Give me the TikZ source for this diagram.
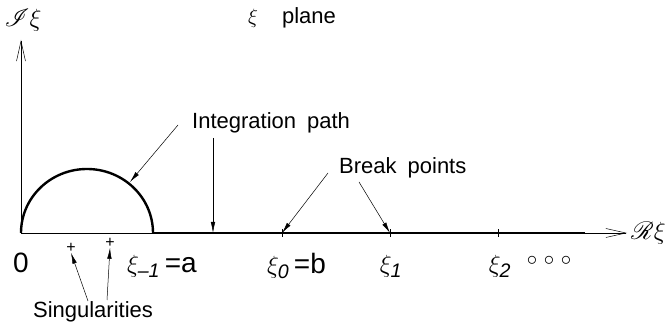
\documentclass[tikz,border=0pt]{standalone}
\usepackage{amsmath,amssymb,mathrsfs}
\usepackage{fontspec}
\setmainfont{Liberation Sans}
\usepackage{tikz}
\usetikzlibrary{arrows.meta,positioning}

\tikzset{
  axis/.style={line width=0.5pt,-{Straight Barb[length=20pt,width=9pt,line width=0.5pt]}},
  pathline/.style={line width=2.4pt},
  pointer/.style={line width=0.5pt,-{Latex[length=11pt,width=4.5pt]}},
  txt/.style={font=\fontsize{22}{24}\selectfont,inner sep=0pt},
  pt/.style={font=\fontsize{28}{30}\selectfont,inner sep=0pt},
  axlab/.style={font=\fontsize{25}{27}\selectfont,inner sep=0pt}
}

\begin{document}
\begin{tikzpicture}[x=1pt,y=1pt]
\useasboundingbox (0,0) rectangle (667,328);
% axes
\coordinate (O) at (21,95);
\coordinate (Itip) at (21,288);
\coordinate (Rtip) at (627,95);
\draw[axis] (O) -- (Itip);
\draw[axis] (O) -- (Rtip);
\node[axlab] (Ilab) at (23,308) {$\mathscr{I}\xi$};
\node[axlab,anchor=west] (Rlab) at (631,95) {$\mathscr{R}\xi$};
\node[txt] (plane) at (292,310) {$\xi$\hspace{1.1em}plane};
% integration path
\draw[line width=0.5pt,dash pattern=on 2pt off 7pt] (O) -- (153,95);
\draw[pathline] (O) arc[start angle=180,end angle=0,x radius=66,y radius=64]
  coordinate (a);
\draw[pathline] (a) -- (585,95) coordinate (pend);
% break points
\foreach \x/\n in {282/b0,390/b1,498/b2} {
  \draw[line width=0.6pt] (\x,91) -- (\x,99);
  \coordinate (\n) at (\x,95);
}
% labels on the real axis
\node[pt] (zero) at (21,65) {0};
\node[pt,anchor=west] (am) at (127,62) {$\xi_{\textit{--1}}$\,=a};
\node[pt,anchor=west] (bm) at (267,62) {$\xi_{\textit{0}}$\,=b};
\node[pt] (x1) at (391,62) {$\xi_{\textit{1}}$};
\node[pt] (x2) at (500,62) {$\xi_{\textit{2}}$};
\node[txt] (dots) at (549,67) {$\circ$\hspace{0.3em}$\circ$\hspace{0.3em}$\circ$};
% singularities
\node[font=\fontsize{16}{16}\selectfont,inner sep=0pt] (s1) at (71,80) {+};
\node[font=\fontsize{16}{16}\selectfont,inner sep=0pt] (s2) at (110,85) {+};
\node[txt] (sing) at (93,16) {Singularities};
\draw[pointer] (88,27) -- (s1.south);
\draw[pointer] (107,28) -- (s2.south);
% pointers
\node[txt,anchor=west] (ilab) at (192,205) {Integration\hspace{0.5em}path};
\coordinate (onarc) at (130,146);
\draw[pointer] (178,203) -- (onarc);
\draw[pointer] (213,190) -- (213,95);
\node[txt,anchor=west] (blab) at (339,160) {Break\hspace{0.5em}points};
\draw[pointer] (328,155) -- (b0);
\draw[pointer] (359,146) -- (b1);
\end{tikzpicture}
\end{document}
